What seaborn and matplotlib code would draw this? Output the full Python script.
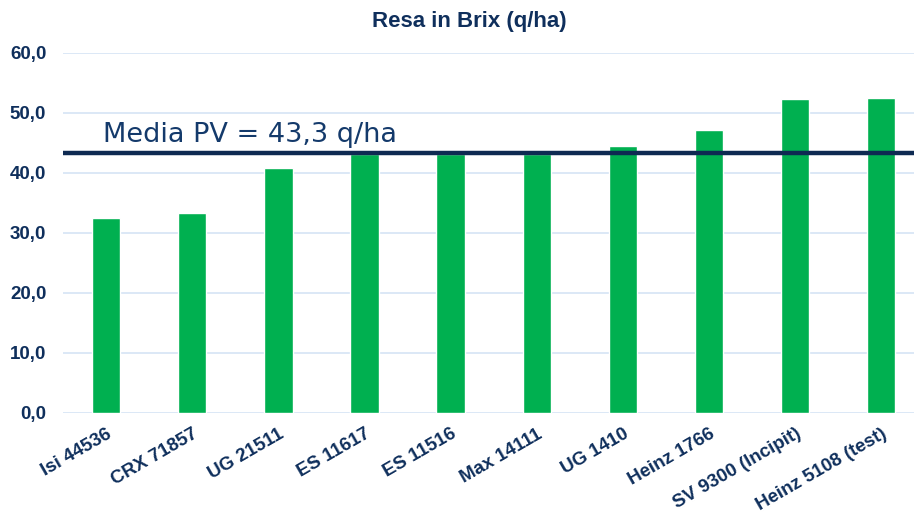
import matplotlib
matplotlib.use("Agg")
import matplotlib.pyplot as plt
import seaborn as sns
import pandas as pd

categories = ["Isi 44536", "CRX 71857", "UG 21511", "ES 11617", "ES 11516",
              "Max 14111", "UG 1410", "Heinz 1766", "SV 9300 (Incipit)", "Heinz 5108 (test)"]
values = [32.5, 33.4, 40.8, 43.2, 43.1, 43.1, 44.5, 47.1, 52.3, 52.5]
media_pv = 43.3
yticks = [0, 10, 20, 30, 40, 50, 60]

sns.set_theme(style="white")
plt.rcParams['font.family'] = ['Liberation Sans', 'DejaVu Sans']

navy = "#0F2F5C"
fig = plt.figure(figsize=(9.14, 5.17), dpi=100)
ax = fig.add_axes([63/914, 104/517, (914-63)/914, 360/517])

df = pd.DataFrame({"cat": categories, "val": values})
sns.barplot(data=df, x="cat", y="val", color="#00B050", saturation=1, width=0.33, ax=ax, zorder=2)

ax.set_ylim(0, 60)
ax.set_xlim(-0.5, 9.38)
ax.set_yticks(yticks)
ax.set_yticklabels([f"{v:.1f}".replace(".", ",") for v in yticks],
                   fontsize=13.5, fontweight="bold", color=navy)
ax.yaxis.grid(True, color="#D6E4F5", linewidth=1.2, zorder=0)
ax.set_axisbelow(True)
for s in ax.spines.values():
    s.set_visible(False)
ax.tick_params(axis="y", length=0, pad=12)
ax.tick_params(axis="x", length=0, pad=9)
ax.set_xlabel("")
ax.set_ylabel("")
ax.set_xticks(range(len(categories)))
ax.set_xticklabels(categories, rotation=30, ha="right", rotation_mode="anchor",
                   fontsize=13.5, fontweight="bold", color=navy)

ax.axhline(media_pv, color="#0E2A52", linewidth=3.2, zorder=3)
ax.text(-0.04, media_pv + 0.9, "Media PV = 43,3 q/ha", fontsize=19.5, color="#143A6B",
        family=["DejaVu Sans"], va="bottom", ha="left", zorder=4)

fig.text(469/914, 1 - 22/517, "Resa in Brix (q/ha)", ha="center", va="center",
         fontsize=16, fontweight="bold", color=navy)

fig.savefig("out.png", dpi=100)
